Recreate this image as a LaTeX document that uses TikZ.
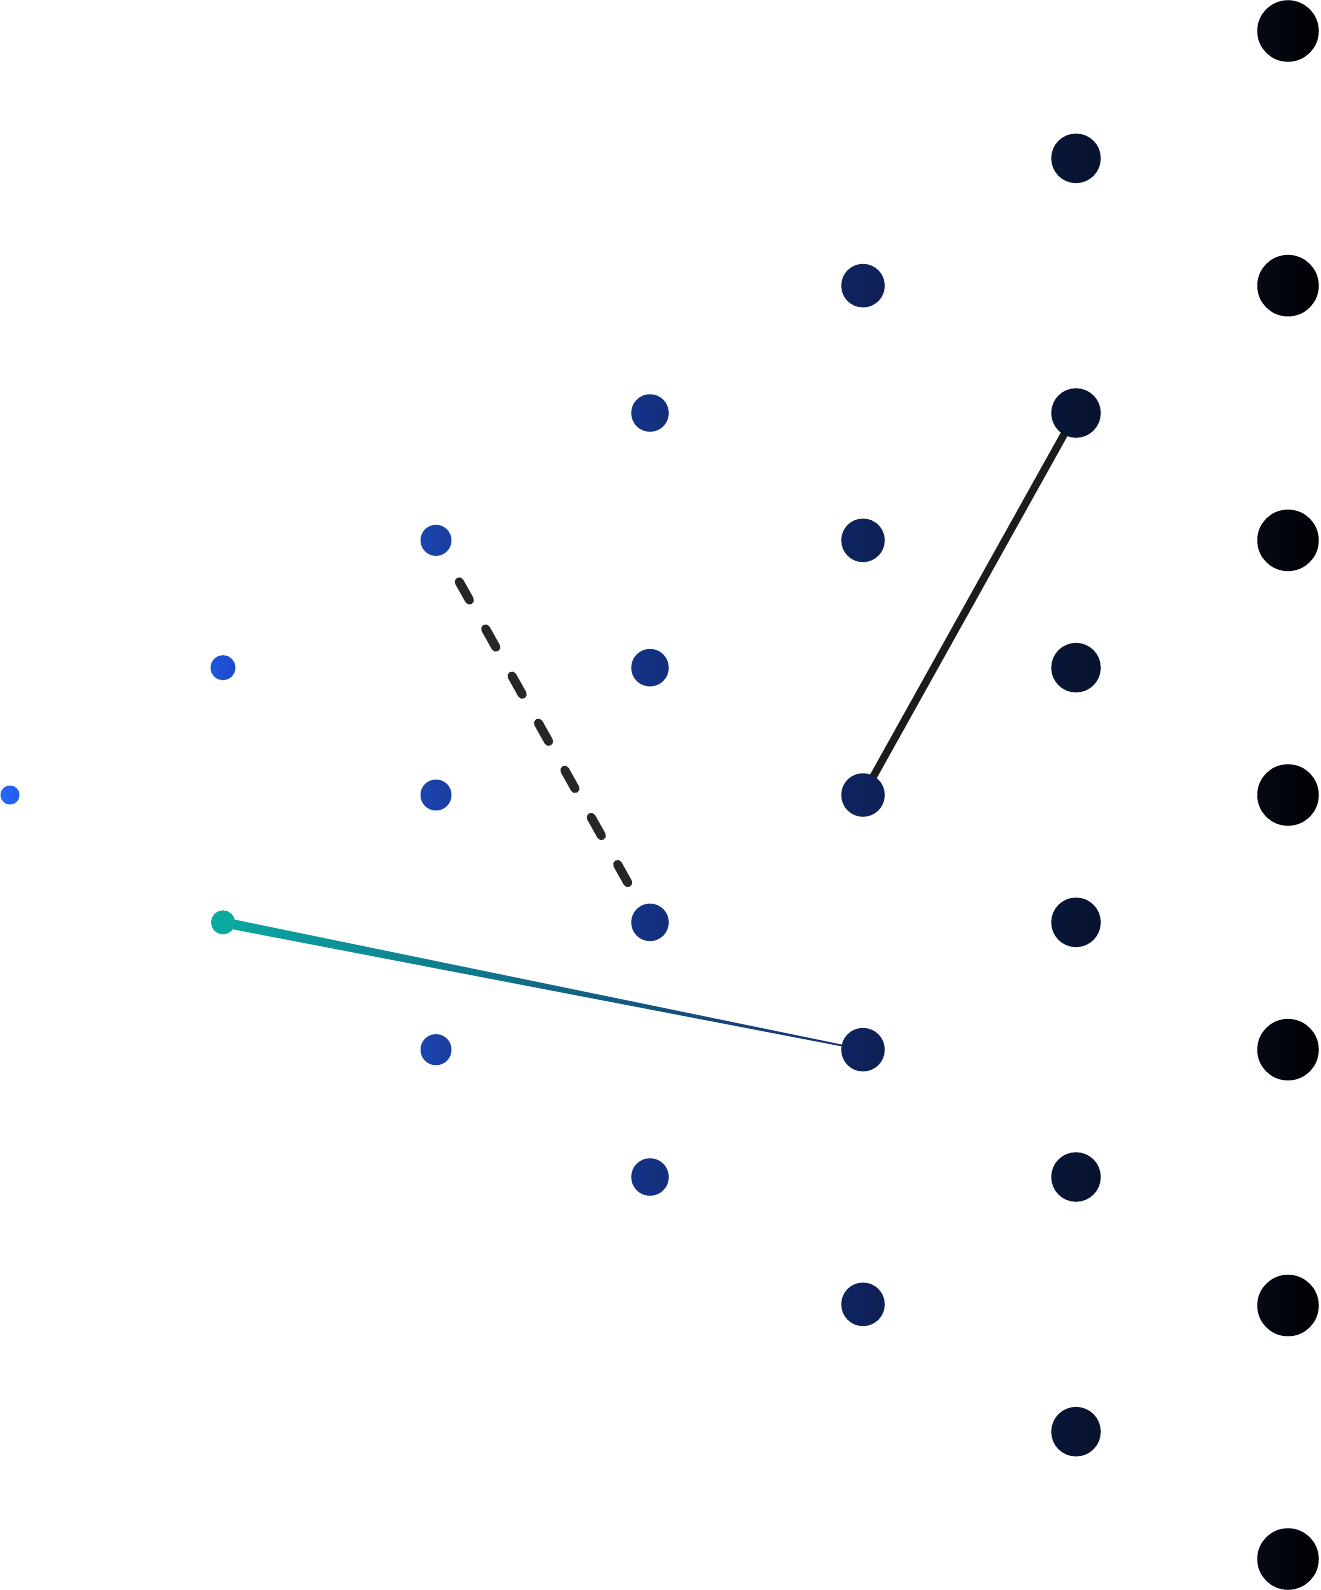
\documentclass[tikz,border=0pt]{standalone}
\usetikzlibrary{calc}
\definecolor{cA0}{HTML}{2867FA}\definecolor{cB0}{HTML}{215CEB}
\definecolor{cA1}{HTML}{2055DC}\definecolor{cB1}{HTML}{1C4AC8}
\definecolor{cA2}{HTML}{1B45B0}\definecolor{cB2}{HTML}{193D9E}
\definecolor{cA3}{HTML}{13348C}\definecolor{cB3}{HTML}{142E78}
\definecolor{cA4}{HTML}{0D2462}\definecolor{cB4}{HTML}{0F1F52}
\definecolor{cA5}{HTML}{071738}\definecolor{cB5}{HTML}{08122C}
\definecolor{cA6}{HTML}{040913}\definecolor{cB6}{HTML}{000005}
\definecolor{tealdot}{HTML}{0AAAA0}
\definecolor{tealA}{HTML}{0AA8A0}
\definecolor{tealM}{HTML}{11708A}
\definecolor{tealE}{HTML}{1A2A6E}
\definecolor{dashcol}{HTML}{262626}
\definecolor{solidcol}{HTML}{1C1C1C}
\pgfdeclarelayer{bg}
\pgfsetlayers{bg,main}
\begin{document}
\begin{tikzpicture}[x=1pt,y=-1pt,
  dot/.style={circle, inner sep=0pt, outer sep=0pt, line width=1pt},
  d0/.style={dot, minimum size=18pt, left color=cA0, right color=cB0, draw=cA0!50!cB0},
  d1/.style={dot, minimum size=24pt, left color=cA1, right color=cB1, draw=cA1!50!cB1},
  d2/.style={dot, minimum size=30pt, left color=cA2, right color=cB2, draw=cA2!50!cB2},
  d3/.style={dot, minimum size=36.5pt, left color=cA3, right color=cB3, draw=cA3!50!cB3},
  d4/.style={dot, minimum size=42.5pt, left color=cA4, right color=cB4, draw=cA4!50!cB4},
  d5/.style={dot, minimum size=48.5pt, left color=cA5, right color=cB5, draw=cA5!50!cB5},
  d6/.style={dot, minimum size=60.5pt, left color=cA6, right color=cB6, draw=cA6!50!cB6},
  dteal/.style={dot, minimum size=24pt, fill=tealdot, draw=none},
  dashline/.style={draw=dashcol, line width=9pt, line cap=round, dash pattern=on 21pt off 33pt},
  solidline/.style={draw=solidcol, line width=7.5pt}
]
\useasboundingbox (0,0) rectangle (1320,1590);
% column 0
\node[d0] (n0-6) at (10,795) {};
% column 1
\node[d1] (n1-5) at (223,667.67) {};
\node[dteal] (n1-7) at (223,922.33) {};
% column 2
\node[d2] (n2-4) at (436,540.33) {};
\node[d2] (n2-6) at (436,795) {};
\node[d2] (n2-8) at (436,1049.67) {};
% column 3
\node[d3] (n3-3) at (650,413) {};
\node[d3] (n3-5) at (650,667.67) {};
\node[d3] (n3-7) at (650,922.33) {};
\node[d3] (n3-9) at (650,1177) {};
% column 4
\node[d4] (n4-2) at (863,285.67) {};
\node[d4] (n4-4) at (863,540.33) {};
\node[d4] (n4-6) at (863,795) {};
\node[d4] (n4-8) at (863,1049.67) {};
\node[d4] (n4-10) at (863,1304.33) {};
% column 5
\node[d5] (n5-1) at (1076,158.33) {};
\node[d5] (n5-3) at (1076,413) {};
\node[d5] (n5-5) at (1076,667.67) {};
\node[d5] (n5-7) at (1076,922.33) {};
\node[d5] (n5-9) at (1076,1177) {};
\node[d5] (n5-11) at (1076,1431.67) {};
% column 6
\node[d6] (n6-0) at (1288,31) {};
\node[d6] (n6-2) at (1288,285.67) {};
\node[d6] (n6-4) at (1288,540.33) {};
\node[d6] (n6-6) at (1288,795) {};
\node[d6] (n6-8) at (1288,1049.67) {};
\node[d6] (n6-10) at (1288,1305.5) {};
\node[d6] (n6-12) at (1288,1559) {};
% connectors
\begin{pgfonlayer}{bg}
\path[left color=tealA, middle color=tealM, right color=tealE]
  ($(n1-7.center)!5pt!90:(n4-8.center)$) --
  ($(n4-8.center)!0.75pt!-90:(n1-7.center)$) --
  ($(n4-8.center)!0.75pt!90:(n1-7.center)$) --
  ($(n1-7.center)!5pt!-90:(n4-8.center)$) -- cycle;
\draw[dashline, shorten <=47.5pt, shorten >=45.5pt] (n2-4.center) -- (n3-7.center);
\draw[solidline] (n4-6.center) -- (n5-3.center);
\end{pgfonlayer}
\end{tikzpicture}
\end{document}
